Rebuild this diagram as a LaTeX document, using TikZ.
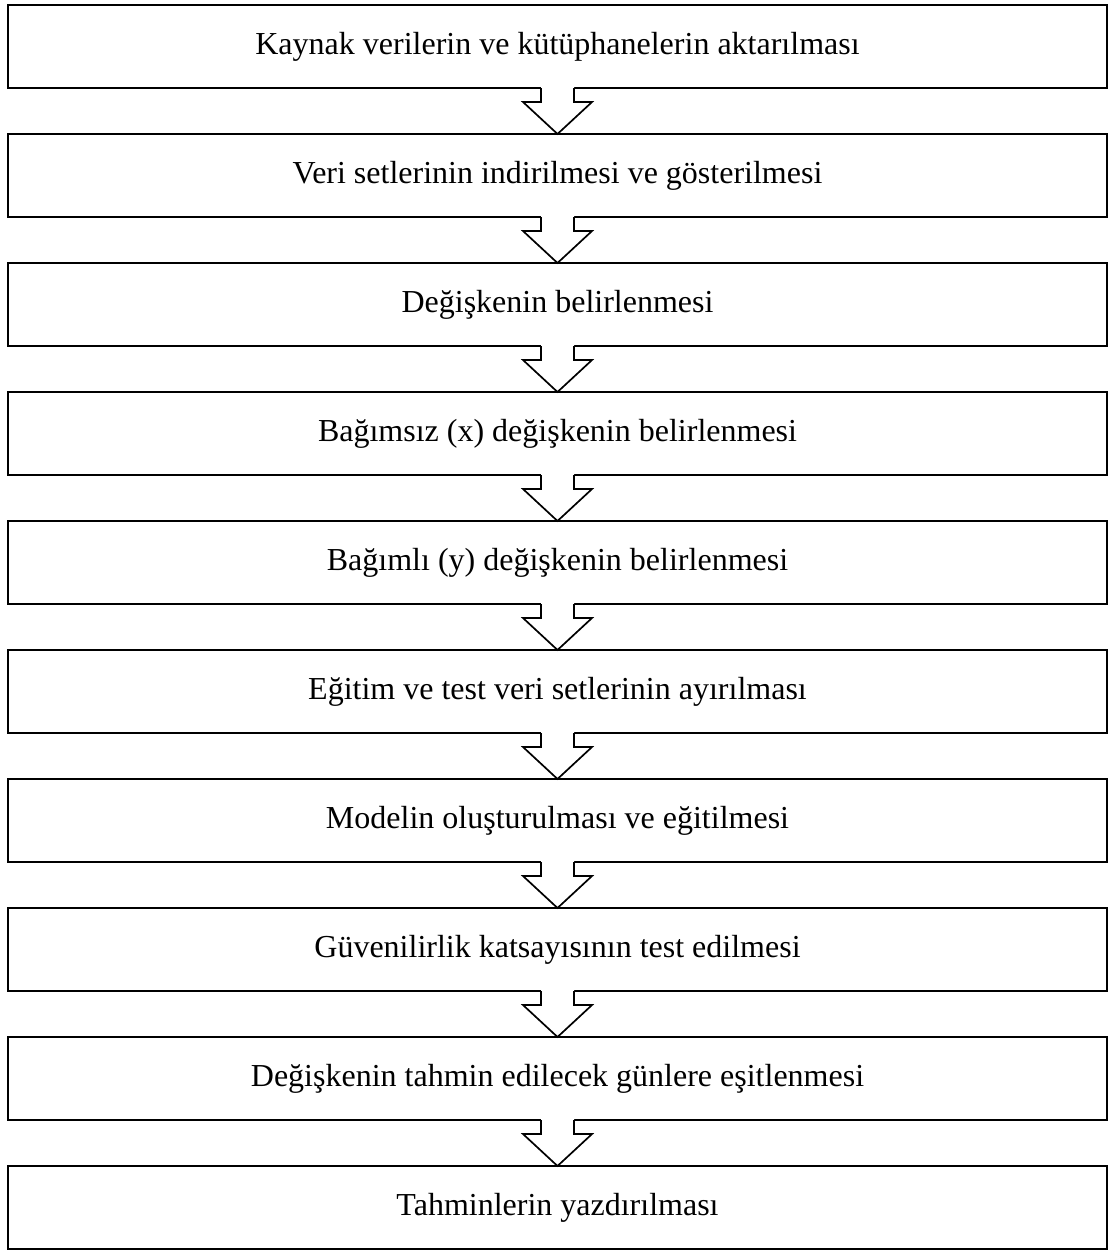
\documentclass[tikz,border=0pt]{standalone}
\usepackage{fontspec}
\setmainfont{Liberation Serif}
\usetikzlibrary{calc}
\begin{document}
\begin{tikzpicture}[x=1pt,y=1pt,
  stepbox/.style={draw=black, line width=2.2pt, fill=white, outer sep=0pt,
    minimum width=1099pt, minimum height=83pt, inner sep=0pt,
    font=\fontsize{32}{38}\selectfont},
  flowline/.style={draw=black, line width=1.7pt, line join=miter}]
\useasboundingbox (0,0) rectangle (1117,-1250);
% step boxes, 129pt apart
\foreach \n/\txt [count=\k from 0] in {
  s0/Kaynak verilerin ve kütüphanelerin aktarılması,
  s1/Veri setlerinin indirilmesi ve gösterilmesi,
  s2/Değişkenin belirlenmesi,
  s3/Bağımsız (x) değişkenin belirlenmesi,
  s4/Bağımlı (y) değişkenin belirlenmesi,
  s5/Eğitim ve test veri setlerinin ayırılması,
  s6/Modelin oluşturulması ve eğitilmesi,
  s7/Güvenilirlik katsayısının test edilmesi,
  s8/Değişkenin tahmin edilecek günlere eşitlenmesi,
  s9/Tahminlerin yazdırılması}
  \node[stepbox] (\n) at (557.5,{-46.5-129*\k}) {\txt};
% hollow block arrows between consecutive boxes
\foreach \a/\b in {s0/s1,s1/s2,s2/s3,s3/s4,s4/s5,s5/s6,s6/s7,s7/s8,s8/s9}{
  \fill[white] ($(\a.south)+(-16.5,1.5)$) -- ($(\a.south)+(-16.5,-14)$)
    -- ($(\a.south)+(-34.5,-14)$) -- (\b.north) -- ($(\a.south)+(34.5,-14)$)
    -- ($(\a.south)+(16.5,-14)$) -- ($(\a.south)+(16.5,1.5)$) -- cycle;
  \draw[flowline] ($(\a.south)+(-16.5,0)$) -- ($(\a.south)+(-16.5,-14)$)
    -- ($(\a.south)+(-34.5,-14)$) -- (\b.north) -- ($(\a.south)+(34.5,-14)$)
    -- ($(\a.south)+(16.5,-14)$) -- ($(\a.south)+(16.5,0)$);
}
\end{tikzpicture}
\end{document}
